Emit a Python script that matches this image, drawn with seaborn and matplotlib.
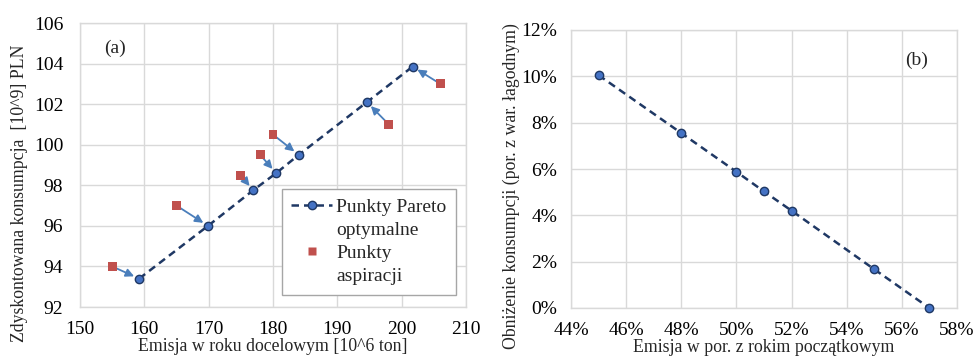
import matplotlib
matplotlib.use("Agg")
import matplotlib.pyplot as plt
import seaborn as sns
import pandas as pd
from matplotlib.ticker import FuncFormatter, MultipleLocator
from matplotlib.lines import Line2D

# Panel (a) data
pareto_x = [159.2, 169.9, 176.9, 180.5, 184.0, 194.6, 201.7]
pareto_y = [93.4, 96.0, 97.75, 98.6, 99.5, 102.1, 103.85]
asp_x = [155, 165, 175, 178, 180, 198, 206]
asp_y = [94.0, 97.0, 98.5, 99.5, 100.5, 101.0, 103.0]

# Panel (b) data
emis_pct = [45, 48, 50, 51, 52, 55, 57]
cons_drop_pct = [10.05, 7.55, 5.88, 5.03, 4.2, 1.67, 0.0]

sns.set_theme(style="whitegrid")
plt.rcParams["font.family"] = ["Liberation Serif", "DejaVu Serif"]

GRID = "#d9d9d9"
LINE = "#1f3864"
MFC = "#4472c4"
RED = "#c0504d"
ARROW = "#4a7ebb"
LBL = 12.8

fig = plt.figure(figsize=(9.74, 3.6), dpi=100)
ax1 = fig.add_axes([80/974, 1 - 307/360, 386/974, 284/360])
ax2 = fig.add_axes([571/974, 1 - 308/360, 386/974, 278/360])

for ax in (ax1, ax2):
    ax.set_facecolor("white")
    ax.grid(True, color=GRID, linewidth=1.0)
    for s in ax.spines.values():
        s.set_color(GRID)
        s.set_linewidth(1.0)
    ax.tick_params(axis="both", length=0, labelsize=14, colors="black")
    ax.tick_params(axis="x", pad=10)
ax1.tick_params(axis="y", pad=12)
ax2.tick_params(axis="y", pad=10)

# Panel (a)
dfp = pd.DataFrame({"x": pareto_x, "y": pareto_y})
dfa = pd.DataFrame({"x": asp_x, "y": asp_y})

for xa, ya, xp, yp in zip(asp_x, asp_y, pareto_x, pareto_y):
    ax1.annotate("", xy=(xp, yp), xytext=(xa, ya),
                 arrowprops=dict(arrowstyle="-|>", color=ARROW, lw=1.3,
                                 shrinkA=2, shrinkB=4, mutation_scale=12),
                 zorder=2)

sns.lineplot(data=dfp, x="x", y="y", ax=ax1, color=LINE, linestyle=(0, (3, 2)),
             linewidth=1.8, marker="o", markersize=6, markerfacecolor=MFC,
             markeredgecolor=LINE, markeredgewidth=1.0, zorder=3, legend=False)
sns.scatterplot(data=dfa, x="x", y="y", ax=ax1, marker="s", s=40, color=RED,
                edgecolor="none", zorder=4, legend=False)

ax1.set_xlim(150, 210)
ax1.set_ylim(92, 106)
ax1.xaxis.set_major_locator(MultipleLocator(10))
ax1.yaxis.set_major_locator(MultipleLocator(2))
ax1.set_xlabel("Emisja w roku docelowym [10^6 ton]", fontsize=LBL, labelpad=0)
ax1.set_ylabel("Zdyskontowana konsumpcja  [10^9] PLN", fontsize=LBL)
ax1.yaxis.set_label_coords(-0.135, 0.40)
ax1.text(0.062, 0.912, "(a)", transform=ax1.transAxes, fontsize=14, va="center")

h_pareto = Line2D([], [], color=LINE, linestyle=(0, (3, 2)), linewidth=1.8,
                  marker="o", markersize=6, markerfacecolor=MFC,
                  markeredgecolor=LINE, markeredgewidth=1.0)
h_asp = Line2D([], [], linestyle="none", marker="s", markersize=6.3,
               markerfacecolor=RED, markeredgecolor="none")
h_blank = Line2D([], [], linestyle="none", marker=None, alpha=0)
leg = ax1.legend([h_pareto, h_blank, h_asp, h_blank],
                 ["Punkty Pareto", "optymalne", "Punkty", "aspiracji"],
                 loc="lower right", bbox_to_anchor=(0.974, 0.042),
                 borderaxespad=0, fontsize=14,
                 frameon=True, fancybox=False, edgecolor="#a6a6a6",
                 handlelength=2.1, handletextpad=0.2, labelspacing=0.28,
                 borderpad=0.5, framealpha=1)
leg.get_frame().set_linewidth(1.0)

# Panel (b)
dfb = pd.DataFrame({"x": emis_pct, "y": cons_drop_pct})
sns.lineplot(data=dfb, x="x", y="y", ax=ax2, color=LINE, linestyle=(0, (3, 2)),
             linewidth=1.8, marker="o", markersize=6, markerfacecolor=MFC,
             markeredgecolor=LINE, markeredgewidth=1.0, zorder=3)
ax2.set_xlim(44, 58)
ax2.set_ylim(0, 12)
ax2.xaxis.set_major_locator(MultipleLocator(2))
ax2.yaxis.set_major_locator(MultipleLocator(2))
pct = FuncFormatter(lambda v, p: f"{v:.0f}%")
ax2.xaxis.set_major_formatter(pct)
ax2.yaxis.set_major_formatter(pct)
ax2.set_xlabel("Emisja w por. z rokim początkowym", fontsize=LBL, labelpad=0)
ax2.set_ylabel("Obniżenie konsumpcji (por. z war. łagodnym)", fontsize=LBL)
ax2.yaxis.set_label_coords(-0.131, 0.44)
ax2.text(0.866, 0.892, "(b)", transform=ax2.transAxes, fontsize=14, va="center")

for ln in ax2.get_lines():
    ln.set_clip_on(False)

fig.savefig("out.png", dpi=100)
